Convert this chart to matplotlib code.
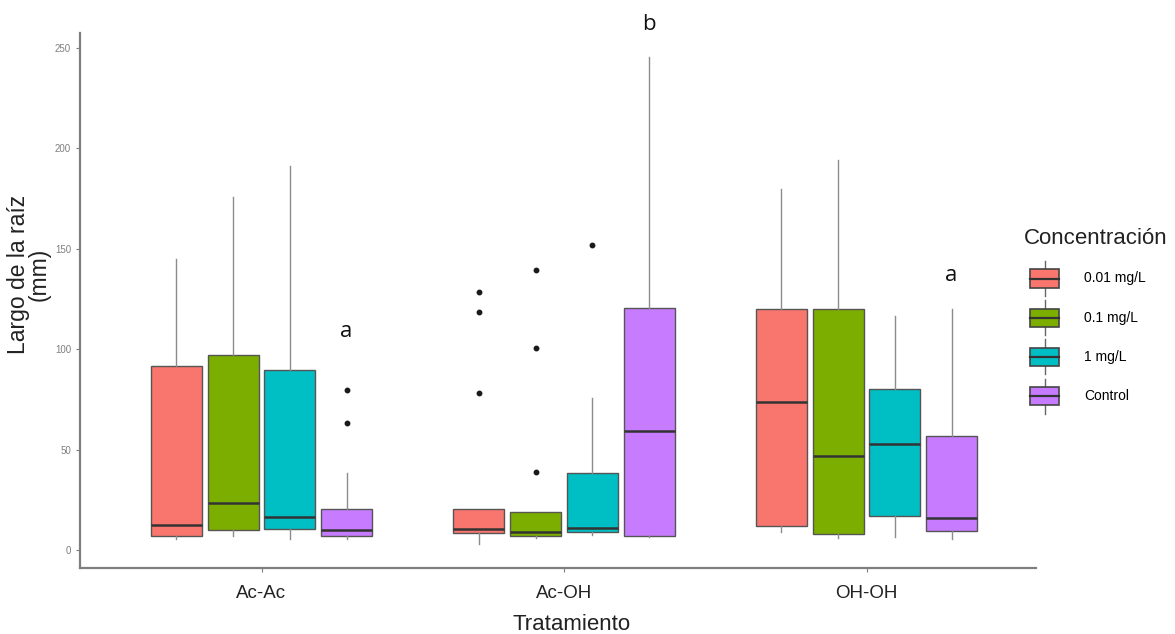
import matplotlib.pyplot as plt
from matplotlib.legend_handler import HandlerBase
from matplotlib.patches import Rectangle
from matplotlib.lines import Line2D

plt.rcParams['font.family'] = ['Liberation Sans', 'DejaVu Sans']

# ------------- Data ------------- #
treatments = ['Ac-Ac', 'Ac-OH', 'OH-OH']
concentrations = ['0.01 mg/L', '0.1 mg/L', '1 mg/L', 'Control']
colors = ['#F8766D', '#7CAE00', '#00BFC4', '#C77CFF']

# rows = treatment, columns = concentration (mm)
whisker_low = [[5.5, 7.0, 5.5, 5.6],
               [3.2, 5.7, 7.4, 6.2],
               [8.8, 5.8, 6.3, 5.5]]
q1 = [[7.0, 10.0, 10.5, 7.1],
      [8.6, 7.1, 8.7, 7.1],
      [12.1, 8.1, 17.1, 9.6]]
median = [[12.4, 23.6, 16.4, 10.1],
          [10.3, 9.1, 11.1, 59.1],
          [73.9, 46.8, 53.0, 15.9]]
q3 = [[91.8, 97.2, 89.7, 20.6],
      [20.5, 18.8, 38.2, 120.7],
      [120.2, 119.9, 80.4, 56.8]]
whisker_high = [[145.0, 175.7, 191.3, 38.5],
                [20.5, 18.8, 75.6, 245.3],
                [179.7, 194.0, 116.3, 119.9]]
outliers = [[[], [], [], [79.7, 63.1]],
            [[128.5, 118.5, 78.1], [139.4, 100.8, 38.6], [152.0], []],
            [[], [], [], []]]

# significance letters over the control boxes
letters = ['a', 'b', 'a']
letter_y = [109, 261.5, 136.5]

# ------------- Plot ------------- #
fig = plt.figure(figsize=(11.75, 6.34), dpi=100)
ax = fig.add_axes([80 / 1175, 1 - 568 / 634, 956 / 1175, 535 / 634])

dodge = 0.75 / 4
box_w = dodge * 0.9
edge = '#555555'

for i, trt in enumerate(treatments):
    for j, conc in enumerate(concentrations):
        pos = i + 1 + (j - 1.5) * dodge
        stats = [dict(whislo=whisker_low[i][j], q1=q1[i][j], med=median[i][j],
                      q3=q3[i][j], whishi=whisker_high[i][j], fliers=outliers[i][j])]
        ax.bxp(stats, positions=[pos], widths=box_w, patch_artist=True,
               showcaps=False, manage_ticks=False,
               boxprops=dict(facecolor=colors[j], edgecolor=edge, linewidth=1),
               whiskerprops=dict(color='#8c8c8c', linewidth=1),
               medianprops=dict(color='#333333', linewidth=1.8),
               flierprops=dict(marker='o', markersize=3.2, markerfacecolor='#1a1a1a',
                               markeredgecolor='#1a1a1a'))
    ctrl = i + 1 + 1.5 * dodge
    ax.text(ctrl, letter_y[i], letters[i], ha='center', va='center', fontsize=16,
            family='Open Sans', color='#111111', clip_on=False)

ax.set_xlim(0.4, 3.56)
ax.set_ylim(-9, 257.5)
ax.set_xticks(range(1, len(treatments) + 1))
ax.set_xticklabels(treatments, fontsize=13.5, color='#222222')
ax.set_yticks(range(0, 251, 50))
ax.tick_params(axis='y', labelsize=7, labelcolor='#7f7f7f', color='#7f7f7f', length=3)
ax.tick_params(axis='x', color='#7f7f7f', length=3, pad=9)

for side in ['top', 'right']:
    ax.spines[side].set_visible(False)
for side in ['left', 'bottom']:
    ax.spines[side].set_color('#7f7f7f')
    ax.spines[side].set_linewidth(1.6)

# axis titles
fig.text(572 / 1175, 1 - 625 / 634, 'Tratamiento', ha='center', va='center',
         fontsize=16, color='#222222')
fig.text(29 / 1175, 1 - 274 / 634, 'Largo de la raíz\n(mm)', rotation=90,
         ha='center', va='center', multialignment='center', linespacing=0.9,
         fontsize=16.5, color='#222222')


# ------------- Legend ------------- #
class BoxKey(HandlerBase):
    def create_artists(self, legend, orig_handle, xdescent, ydescent,
                       width, height, fontsize, trans):
        x0, y0 = -xdescent, -ydescent
        bh = height * 0.52
        by = y0 + (height - bh) / 2
        cx = x0 + width / 2
        whisker = Line2D([cx, cx], [y0, y0 + height], color='#666666', lw=1, transform=trans)
        box = Rectangle((x0, by), width, bh, facecolor=orig_handle.get_facecolor(),
                        edgecolor='#444444', lw=1.2, transform=trans)
        mid = Line2D([x0, x0 + width], [by + bh / 2] * 2, color='#333333', lw=1.6,
                     transform=trans)
        return [whisker, box, mid]


fig.text(1024 / 1175, 1 - 238 / 634, 'Concentración', ha='left', va='center',
         fontsize=16, color='#222222')
handles = [Rectangle((0, 0), 1, 1, facecolor=c) for c in colors]
leg = fig.legend(handles, concentrations, handler_map={Rectangle: BoxKey()},
                 loc='upper left', bbox_to_anchor=(1030 / 1175, 1 - 261 / 634),
                 frameon=False, fontsize=10, handlelength=2.1,
                 handleheight=3.5, labelspacing=0.3, handletextpad=1.8,
                 borderpad=0, borderaxespad=0)

fig.savefig('out.png', dpi=100)
